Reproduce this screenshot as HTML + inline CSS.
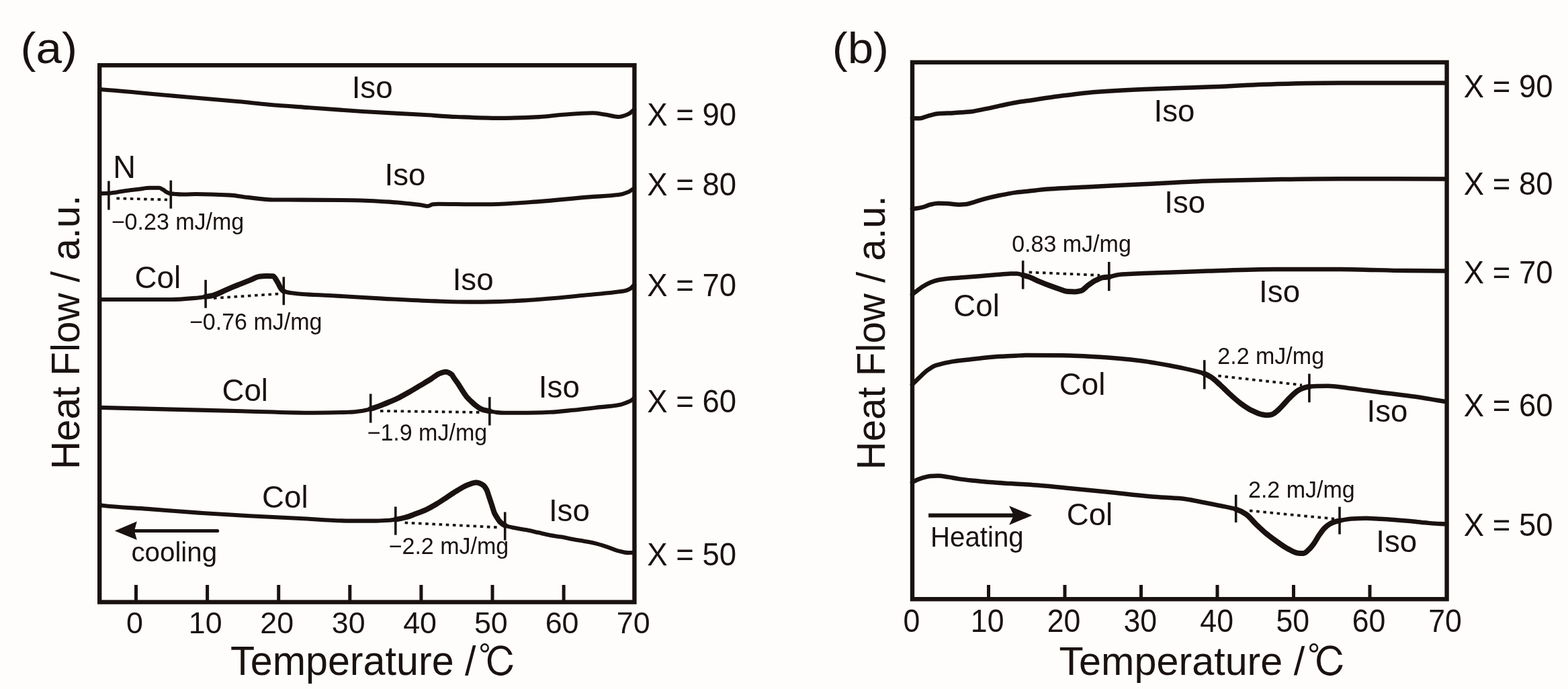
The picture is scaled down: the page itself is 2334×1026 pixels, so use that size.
<!DOCTYPE html>
<html><head><meta charset="utf-8"><style>
html,body{margin:0;padding:0;background:#fefdfb;}
svg{display:block;}
text{font-family:"Liberation Sans", "Noto Sans CJK JP", sans-serif;fill:#1a1210;}
text.c{font-family:"IPAGothic", "Noto Sans CJK JP", sans-serif;}
</style></head><body>
<svg width="2334" height="1026" viewBox="0 0 2334 1026">
<rect width="2334" height="1026" fill="#fefdfb"/>
<g>
<rect x="148.2" y="97.2" width="796.2" height="799.4" fill="none" stroke="#1a1210" stroke-width="6.4"/>
<line x1="202.5" y1="896.6" x2="202.5" y2="871" stroke="#1a1210" stroke-width="5"/>
<line x1="308.6" y1="896.6" x2="308.6" y2="871" stroke="#1a1210" stroke-width="5"/>
<line x1="414.7" y1="896.6" x2="414.7" y2="871" stroke="#1a1210" stroke-width="5"/>
<line x1="520.8" y1="896.6" x2="520.8" y2="871" stroke="#1a1210" stroke-width="5"/>
<line x1="626.9" y1="896.6" x2="626.9" y2="871" stroke="#1a1210" stroke-width="5"/>
<line x1="733" y1="896.6" x2="733" y2="871" stroke="#1a1210" stroke-width="5"/>
<line x1="839.1" y1="896.6" x2="839.1" y2="871" stroke="#1a1210" stroke-width="5"/>
<rect x="1358" y="92.8" width="795.6" height="799.4" fill="none" stroke="#1a1210" stroke-width="6.4"/>
<line x1="1471.5" y1="892.2" x2="1471.5" y2="871" stroke="#1a1210" stroke-width="5"/>
<line x1="1585" y1="892.2" x2="1585" y2="871" stroke="#1a1210" stroke-width="5"/>
<line x1="1698.5" y1="892.2" x2="1698.5" y2="871" stroke="#1a1210" stroke-width="5"/>
<line x1="1812" y1="892.2" x2="1812" y2="871" stroke="#1a1210" stroke-width="5"/>
<line x1="1925.5" y1="892.2" x2="1925.5" y2="871" stroke="#1a1210" stroke-width="5"/>
<line x1="2039" y1="892.2" x2="2039" y2="871" stroke="#1a1210" stroke-width="5"/>
</g>
<g fill="none" stroke="#1a1210" stroke-linecap="round" stroke-linejoin="round">
<path stroke-width="6.1" d="M148,133.1 C149,133.17 150,133.23 151,133.3 C184,135.7 217,139.1 250,142 C285.33,145.1 320.67,147.93 356,151.3 C370.67,152.7 385.33,154.52 400,155.8 C420,157.54 440,158.84 460,160.3 C486.67,162.25 513.33,164.35 540,166 C569.33,167.82 598.67,169.09 628,170.8 C645.33,171.81 662.67,173.28 680,174 C700.67,174.85 721.33,175.9 742,175.9 C762.33,175.9 782.67,175.06 803,174.1 C814.67,173.55 826.33,171.66 838,170.8 C852.67,169.73 867.33,168.2 882,168.2 C888,168.2 894,169.55 900,170.4 C907,171.39 914,174 921,174 C925.67,174 930.33,172.02 935,170 C938,168.7 941,165.91 944,163"/>
<path stroke-width="6.1" d="M148,288.1 C152.57,288.1 157.13,287.97 161.7,287.8 C165.43,287.66 169.17,286.92 172.9,286.4 C178.47,285.62 184.03,284.47 189.6,283.7 C195.17,282.93 200.73,282.35 206.3,281.7 C211.87,281.05 217.43,279.8 223,279.8 C227.63,279.8 232.27,279.8 236.9,279.8 C238.77,279.8 240.63,281.28 242.5,282.3 C244.37,283.32 246.23,285.31 248.1,286.2 C250.13,287.17 252.17,288.14 254.2,288.4 C256.8,288.74 259.4,288.86 262,289 C266.33,289.23 270.67,289.5 275,289.5 C280.47,289.5 285.93,289 291.4,289 C308.53,289 325.67,289.68 342.8,290.6 C351.37,291.06 359.93,292.96 368.5,293.9 C381.33,295.3 394.17,297.44 407,297.5 C421.33,297.57 435.67,297.55 450,297.6 C475.8,297.69 501.6,297.84 527.4,298.2 C544.93,298.44 562.47,299.5 580,300.6 C585.13,300.92 590.27,301.44 595.4,301.9 C600.53,302.36 605.67,302.86 610.8,303.4 C615.97,303.95 621.13,304.47 626.3,305.2 C629.73,305.69 633.17,307 636.6,307 C639.17,307 641.73,304.48 644.3,304.2 C646.87,303.92 649.43,303.7 652,303.7 C668,303.7 684,304.11 700,304.2 C708,304.25 716,304.3 724,304.3 C745.87,304.3 767.73,302.38 789.6,301 C818.73,299.17 847.87,295.73 877,293.4 C891.6,292.23 906.2,292.04 920.8,290.1 C925.53,289.47 930.27,287.97 935,286 C938,284.75 941,282.44 944,280"/>
<path stroke-width="6.1" d="M148,446 C161.17,446 174.33,446 187.5,446 C210,446 232.5,446 255,446 C266.67,446 278.33,444.9 290,443.9 C295.37,443.44 300.73,442.61 306.1,441.8 C309.87,441.23 313.63,440.71 317.4,439.8 C321.97,438.69 326.53,436.24 331.1,434.3 C335.67,432.36 340.23,430.04 344.8,428.1 C349.4,426.15 354,424.44 358.6,422.6 C363.17,420.77 367.73,418.92 372.3,417.1 C376.87,415.28 381.43,412.21 386,411.7 C389.43,411.31 392.87,411 396.3,411 C399.7,411 403.1,411.09 406.5,411.3 C408.8,411.44 411.1,416.98 413.4,420.6 C415,423.12 416.6,427.44 418.2,429.5 C419.57,431.26 420.93,433.03 422.3,433.6 C426.2,435.23 430.1,435.72 434,436.3 C439.33,437.09 444.67,437.62 450,438 C463.33,438.96 476.67,439.29 490,440 C516.27,441.4 542.53,443.21 568.8,444.6 C595.1,445.99 621.4,447.6 647.7,448.4 C665.13,448.93 682.57,449.6 700,449.6 C714.27,449.6 728.53,449.37 742.8,449.1 C757.1,448.83 771.4,447.86 785.7,447 C799.97,446.15 814.23,444.93 828.5,443.7 C842.8,442.47 857.1,440.92 871.4,439.5 C885.67,438.09 899.93,436.89 914.2,435.2 C919.57,434.56 924.93,434.17 930.3,433 C933.17,432.37 936.03,431.11 938.9,429.3 C940.6,428.23 942.3,426.15 944,424"/>
<path stroke-width="8" d="M306.1,441.8 C309.87,441.23 313.63,440.71 317.4,439.8 C321.97,438.69 326.53,436.24 331.1,434.3 C335.67,432.36 340.23,430.04 344.8,428.1 C349.4,426.15 354,424.44 358.6,422.6 C363.17,420.77 367.73,418.92 372.3,417.1 C376.87,415.28 381.43,412.21 386,411.7 C389.43,411.31 392.87,411 396.3,411 C399.7,411 403.1,411.09 406.5,411.3 C408.8,411.44 411.1,416.98 413.4,420.6 C415,423.12 416.6,427.44 418.2,429.5 C419.57,431.26 420.93,433.03 422.3,433.6"/>
<path stroke-width="6.1" d="M148,606.9 C183.8,607.81 219.6,608.71 255.4,609.6 C290.53,610.47 325.67,611.35 360.8,612.2 C395.93,613.05 431.07,614.7 466.2,614.7 C483.77,614.7 501.33,614.37 518.9,613.8 C525.93,613.57 532.97,612.73 540,611.7 C543.9,611.13 547.8,609.99 551.7,608.9 C555.6,607.81 559.5,606.41 563.4,605 C568.6,603.12 573.8,600.99 579,598.8 C584.2,596.61 589.4,594.37 594.6,591.8 C599.8,589.23 605,586.18 610.2,583.2 C615.4,580.22 620.6,577.02 625.8,573.9 C631,570.78 636.2,567.8 641.4,564.5 C645.3,562.03 649.2,558.29 653.1,556.7 C656.47,555.33 659.83,553.7 663.2,553.7 C666.33,553.7 669.47,555.44 672.6,557.9 C673.43,558.55 674.27,560.63 675.1,561.9 C677.63,565.75 680.17,568.88 682.7,572.7 C684.8,575.87 686.9,579.65 689,582.8 C691.1,585.95 693.2,589.26 695.3,591.7 C697.43,594.18 699.57,595.99 701.7,598 C703.8,599.98 705.9,602.04 708,603.7 C710.1,605.36 712.2,607.02 714.3,608.1 C716.43,609.2 718.57,610.15 720.7,610.7 C723.43,611.4 726.17,611.71 728.9,612.2 C732.5,612.85 736.1,613.79 739.7,614.1 C743.13,614.4 746.57,614.7 750,614.7 C761.43,614.7 772.87,614.7 784.3,614.7 C795.73,614.7 807.17,614.26 818.6,613.8 C830,613.34 841.4,611.92 852.8,610.8 C864.23,609.68 875.67,608.28 887.1,607 C898.53,605.72 909.97,605.18 921.4,603.1 C925.67,602.32 929.93,600.64 934.2,598.9 C936.5,597.96 938.8,597.02 941.1,595.4 C942.07,594.72 943.03,593.61 944,592.5"/>
<path stroke-width="8" d="M551.7,608.9 C555.6,607.81 559.5,606.41 563.4,605 C568.6,603.12 573.8,600.99 579,598.8 C584.2,596.61 589.4,594.37 594.6,591.8 C599.8,589.23 605,586.18 610.2,583.2 C615.4,580.22 620.6,577.02 625.8,573.9 C631,570.78 636.2,567.8 641.4,564.5 C645.3,562.03 649.2,558.29 653.1,556.7 C656.47,555.33 659.83,553.7 663.2,553.7 C666.33,553.7 669.47,555.44 672.6,557.9 C673.43,558.55 674.27,560.63 675.1,561.9 C677.63,565.75 680.17,568.88 682.7,572.7 C684.8,575.87 686.9,579.65 689,582.8 C691.1,585.95 693.2,589.26 695.3,591.7 C697.43,594.18 699.57,595.99 701.7,598 C703.8,599.98 705.9,602.04 708,603.7 C710.1,605.36 712.2,607.02 714.3,608.1 C716.43,609.2 718.57,610.15 720.7,610.7 C723.43,611.4 726.17,611.71 728.9,612.2"/>
<path stroke-width="6.1" d="M148,752 C149.5,752.28 151,752.62 152.5,752.8 C175.13,755.51 197.77,756.19 220.4,757.9 C245.53,759.79 270.67,761.88 295.8,763.6 C320.93,765.32 346.07,766.92 371.2,768.3 C396.33,769.68 421.47,770.78 446.6,772 C471.73,773.22 496.87,775.6 522,775.6 C534.67,775.6 547.33,775.6 560,775.6 C566.67,775.6 573.33,775.25 580,774.8 C582.87,774.61 585.73,774.07 588.6,773.6 C593.53,772.79 598.47,771.79 603.4,770.5 C608.6,769.14 613.8,766.94 619,765 C624.2,763.06 629.4,761.2 634.6,758.8 C639.8,756.4 645,753.3 650.2,750.2 C655.4,747.1 660.6,743.47 665.8,740.1 C671,736.73 676.2,733.02 681.4,730 C686.6,726.98 691.8,723.64 697,721.8 C700.9,720.42 704.8,718.6 708.7,718.6 C712.07,718.6 715.43,720.22 718.8,722.2 C720.63,723.28 722.47,725.89 724.3,729.2 C725.57,731.49 726.83,736.39 728.1,740.1 C729.4,743.91 730.7,747.87 732,751.8 C733.33,755.83 734.67,761.03 736,764 C737.33,766.97 738.67,768.95 740,771 C741.67,773.56 743.33,776.25 745,777.8 C747.27,779.91 749.53,781.62 751.8,782.5 C756.9,784.48 762,785.25 767.1,786.3 C772.83,787.48 778.57,788.18 784.3,789.3 C790,790.41 795.7,791.82 801.4,793.1 C807.13,794.39 812.87,795.96 818.6,797 C824.3,798.04 830,798.62 835.7,799.6 C841.4,800.58 847.1,801.94 852.8,803 C858.53,804.07 864.27,804.93 870,806 C875.7,807.06 881.4,808.03 887.1,809.4 C892.8,810.77 898.5,812.75 904.2,814.6 C909.93,816.46 915.67,819.18 921.4,820.6 C925.67,821.65 929.93,823.1 934.2,823.1 C937.47,823.1 940.73,823.1 944,822.7"/>
<path stroke-width="8" d="M588.6,773.6 C593.53,772.79 598.47,771.79 603.4,770.5 C608.6,769.14 613.8,766.94 619,765 C624.2,763.06 629.4,761.2 634.6,758.8 C639.8,756.4 645,753.3 650.2,750.2 C655.4,747.1 660.6,743.47 665.8,740.1 C671,736.73 676.2,733.02 681.4,730 C686.6,726.98 691.8,723.64 697,721.8 C700.9,720.42 704.8,718.6 708.7,718.6 C712.07,718.6 715.43,720.22 718.8,722.2 C720.63,723.28 722.47,725.89 724.3,729.2 C725.57,731.49 726.83,736.39 728.1,740.1 C729.4,743.91 730.7,747.87 732,751.8 C733.33,755.83 734.67,761.03 736,764 C737.33,766.97 738.67,768.95 740,771 C741.67,773.56 743.33,776.25 745,777.8 C747.27,779.91 749.53,781.62 751.8,782.5"/>
<path stroke-width="6.5" d="M1358,176 C1361.77,176.3 1365.53,176.3 1369.3,176.3 C1373.13,176.3 1376.97,173.8 1380.8,172.8 C1385.97,171.45 1391.13,169.72 1396.3,169.3 C1404,168.67 1411.7,168.63 1419.4,168.2 C1427.1,167.77 1434.8,167.37 1442.5,166.6 C1450.23,165.83 1457.97,163.92 1465.7,162.4 C1473.4,160.88 1481.1,159.01 1488.8,157.4 C1496.53,155.78 1504.27,154.02 1512,152.7 C1518,151.67 1524,150.89 1530,150 C1546,147.63 1562,145.06 1578,143 C1595.67,140.72 1613.33,138.25 1631,136.9 C1654.33,135.12 1677.67,134.01 1701,133 C1733.5,131.59 1766,130.87 1798.5,129.6 C1831.33,128.31 1864.17,125.98 1897,125.2 C1929.87,124.42 1962.73,123.6 1995.6,123.6 C2048.07,123.6 2100.53,123.6 2153,123.6"/>
<path stroke-width="6.5" d="M1358,311 C1363.03,310.7 1368.07,309.7 1373.1,308.6 C1376.97,307.75 1380.83,305.55 1384.7,304.7 C1388.57,303.85 1392.43,302.8 1396.3,302.8 C1401.43,302.8 1406.57,302.99 1411.7,303.2 C1416.83,303.41 1421.97,304.7 1427.1,304.7 C1430.97,304.7 1434.83,304.32 1438.7,303.9 C1442.57,303.48 1446.43,301.89 1450.3,300.8 C1455.43,299.36 1460.57,297.56 1465.7,296.2 C1473.4,294.16 1481.1,292.37 1488.8,290.8 C1496.53,289.22 1504.27,287.62 1512,286.6 C1518,285.81 1524,285.32 1530,284.7 C1540.27,283.64 1550.53,282.35 1560.8,281.6 C1584.2,279.89 1607.6,279.02 1631,277.8 C1654.33,276.59 1677.67,275.45 1701,274.3 C1733.5,272.7 1766,270.65 1798.5,269.6 C1831.33,268.54 1864.17,267.67 1897,267.2 C1929.87,266.73 1962.73,266.2 1995.6,266.2 C2048.07,266.2 2100.53,266.2 2153,266.6"/>
<path stroke-width="6.5" d="M1358,438.5 C1358.93,437.76 1359.87,437.02 1360.8,436.3 C1364.9,433.13 1369,429.56 1373.1,427 C1376.97,424.58 1380.83,422.37 1384.7,420.8 C1388.57,419.23 1392.43,417.81 1396.3,417 C1401.43,415.93 1406.57,415.2 1411.7,414.7 C1419.4,413.95 1427.1,413.68 1434.8,413.1 C1442.53,412.52 1450.27,411.83 1458,411.2 C1465.7,410.57 1473.4,409.9 1481.1,409.3 C1488.8,408.7 1496.5,407.83 1504.2,407.6 C1507.43,407.5 1510.67,407.4 1513.9,407.4 C1516.83,407.4 1519.77,408.9 1522.7,409.7 C1525.4,410.44 1528.1,411.08 1530.8,412 C1535.97,413.75 1541.13,416.72 1546.3,418.9 C1551.43,421.07 1556.57,423.18 1561.7,425.1 C1566.83,427.02 1571.97,428.84 1577.1,430.5 C1580.97,431.75 1584.83,433.76 1588.7,434 C1592.57,434.24 1596.43,434.4 1600.3,434.4 C1603.37,434.4 1606.43,433.66 1609.5,432.8 C1612.83,431.86 1616.17,427.48 1619.5,425.1 C1623.37,422.34 1627.23,419.24 1631.1,417.4 C1634.97,415.56 1638.83,413.62 1642.7,413.1 C1645.4,412.74 1648.1,412.73 1650.8,412.4 C1655.8,411.8 1660.8,409.35 1665.8,408.9 C1670.53,408.47 1675.27,408.36 1680,408.1 C1687,407.72 1694,407.31 1701,407 C1733.5,405.56 1766,404.44 1798.5,403.5 C1831.33,402.55 1864.17,401.1 1897,401.1 C1929.87,401.1 1962.73,401.1 1995.6,401.1 C2028.4,401.1 2061.2,402.78 2094,403.1 C2113.67,403.29 2133.33,403.47 2153,403.5"/>
<path stroke-width="8" d="M1522.7,409.7 C1525.4,410.44 1528.1,411.08 1530.8,412 C1535.97,413.75 1541.13,416.72 1546.3,418.9 C1551.43,421.07 1556.57,423.18 1561.7,425.1 C1566.83,427.02 1571.97,428.84 1577.1,430.5 C1580.97,431.75 1584.83,433.76 1588.7,434 C1592.57,434.24 1596.43,434.4 1600.3,434.4 C1603.37,434.4 1606.43,433.66 1609.5,432.8 C1612.83,431.86 1616.17,427.48 1619.5,425.1 C1623.37,422.34 1627.23,419.24 1631.1,417.4 C1634.97,415.56 1638.83,413.62 1642.7,413.1 C1645.4,412.74 1648.1,412.73 1650.8,412.4"/>
<path stroke-width="6.5" d="M1358,572.5 C1358.93,571.61 1359.87,570.71 1360.8,569.8 C1363.63,567.03 1366.47,563.96 1369.3,561.3 C1373.13,557.7 1376.97,553.92 1380.8,551.2 C1384.67,548.46 1388.53,545.73 1392.4,544.3 C1396.27,542.87 1400.13,542.09 1404,541.2 C1409.13,540.01 1414.27,538.87 1419.4,538.1 C1427.1,536.94 1434.8,536.3 1442.5,535.4 C1450.23,534.5 1457.97,533.45 1465.7,532.7 C1473.4,531.96 1481.1,531.26 1488.8,530.8 C1496.53,530.33 1504.27,530.05 1512,529.7 C1518,529.43 1524,528.9 1530,528.9 C1547,528.9 1564,529.08 1581,529.3 C1600.33,529.55 1619.67,530.66 1639,531.8 C1659.33,533 1679.67,535.06 1700,537.5 C1706.83,538.32 1713.67,539.47 1720.5,540.6 C1727.3,541.72 1734.1,543.01 1740.9,544.3 C1747.73,545.6 1754.57,546.93 1761.4,548.4 C1768.23,549.87 1775.07,551.35 1781.9,553.2 C1785.53,554.19 1789.17,555.2 1792.8,556.6 C1796,557.84 1799.2,559.42 1802.4,561.4 C1806.8,564.12 1811.2,568.57 1815.6,572.5 C1820.8,577.14 1826,582.72 1831.2,587.4 C1836.4,592.08 1841.6,596.87 1846.8,600.7 C1852,604.53 1857.2,608.21 1862.4,610.8 C1867.6,613.39 1872.8,616.07 1878,617.1 C1880.6,617.62 1883.2,618.2 1885.8,618.2 C1888.4,618.2 1891,617.71 1893.6,617.1 C1896.2,616.49 1898.8,613.75 1901.4,611.6 C1904,609.45 1906.6,606.53 1909.2,603.8 C1911.8,601.07 1914.4,597.93 1917,595.2 C1919.6,592.47 1922.2,589.7 1924.8,587.4 C1927.4,585.1 1930,582.69 1932.6,581.2 C1935.2,579.71 1937.8,578.51 1940.4,577.7 C1943.23,576.82 1946.07,575.99 1948.9,575.7 C1952.6,575.32 1956.3,575.08 1960,575 C1965.67,574.88 1971.33,574.8 1977,574.8 C1986,574.8 1995,576.47 2004,577.5 C2013,578.53 2022,579.9 2031,581.1 C2040,582.3 2049,583.57 2058,584.7 C2067,585.83 2076,586.77 2085,587.9 C2094,589.03 2103,590.17 2112,591.5 C2121,592.83 2130,594.51 2139,596 C2143.67,596.77 2148.33,597.54 2153,598.3"/>
<path stroke-width="8" d="M1792.8,556.6 C1796,557.84 1799.2,559.42 1802.4,561.4 C1806.8,564.12 1811.2,568.57 1815.6,572.5 C1820.8,577.14 1826,582.72 1831.2,587.4 C1836.4,592.08 1841.6,596.87 1846.8,600.7 C1852,604.53 1857.2,608.21 1862.4,610.8 C1867.6,613.39 1872.8,616.07 1878,617.1 C1880.6,617.62 1883.2,618.2 1885.8,618.2 C1888.4,618.2 1891,617.71 1893.6,617.1 C1896.2,616.49 1898.8,613.75 1901.4,611.6 C1904,609.45 1906.6,606.53 1909.2,603.8 C1911.8,601.07 1914.4,597.93 1917,595.2 C1919.6,592.47 1922.2,589.7 1924.8,587.4 C1927.4,585.1 1930,582.69 1932.6,581.2 C1935.2,579.71 1937.8,578.51 1940.4,577.7 C1943.23,576.82 1946.07,575.99 1948.9,575.7"/>
<path stroke-width="6.5" d="M1358,718.5 C1358.93,717.82 1359.87,717.1 1360.8,716.6 C1364.9,714.4 1369,712.81 1373.1,711.6 C1376.97,710.46 1380.83,709.13 1384.7,708.9 C1388.57,708.67 1392.43,708.5 1396.3,708.5 C1401.43,708.5 1406.57,709.66 1411.7,710.4 C1416.83,711.14 1421.97,712.37 1427.1,713.1 C1434.83,714.2 1442.57,714.97 1450.3,715.8 C1458,716.63 1465.7,717.49 1473.4,718.1 C1483.67,718.92 1493.93,719.47 1504.2,720.1 C1512.8,720.63 1521.4,721.02 1530,721.6 C1548.53,722.86 1567.07,724.69 1585.6,726.4 C1607.07,728.38 1628.53,730.61 1650,732.8 C1671.4,734.98 1692.8,737.8 1714.2,739.5 C1729.47,740.71 1744.73,740.99 1760,742.5 C1769.73,743.47 1779.47,745.88 1789.2,747.7 C1798.97,749.53 1808.73,751.43 1818.5,753.5 C1825.57,755 1832.63,756.06 1839.7,758.3 C1844.8,759.92 1849.9,762.5 1855,765.9 C1859.87,769.15 1864.73,775.94 1869.6,780.6 C1874.93,785.71 1880.27,790.81 1885.6,795.2 C1890.8,799.48 1896,803.27 1901.2,806.9 C1906.4,810.53 1911.6,814.43 1916.8,817.1 C1922,819.77 1927.2,823.47 1932.4,823.7 C1935,823.81 1937.6,823.9 1940.2,823.9 C1942.8,823.9 1945.4,820.85 1948,818.6 C1950.6,816.35 1953.2,812.86 1955.8,809.3 C1958.4,805.74 1961,800.54 1963.6,796.8 C1966.2,793.06 1968.8,789.17 1971.4,786.6 C1974,784.03 1976.6,781.89 1979.2,780.4 C1981.8,778.91 1984.4,777.68 1987,776.9 C1989.33,776.2 1991.67,775.75 1994,775.3 C1999.93,774.16 2005.87,772.82 2011.8,772.5 C2019.1,772.1 2026.4,771.8 2033.7,771.8 C2040.97,771.8 2048.23,772.4 2055.5,772.8 C2062.8,773.2 2070.1,773.75 2077.4,774.3 C2084.67,774.84 2091.93,775.44 2099.2,776.1 C2106.5,776.76 2113.8,777.64 2121.1,778.3 C2128.4,778.96 2135.7,779.88 2143,780.1 C2146.33,780.2 2149.67,780.3 2153,780.3"/>
<path stroke-width="8" d="M1839.7,758.3 C1844.8,759.92 1849.9,762.5 1855,765.9 C1859.87,769.15 1864.73,775.94 1869.6,780.6 C1874.93,785.71 1880.27,790.81 1885.6,795.2 C1890.8,799.48 1896,803.27 1901.2,806.9 C1906.4,810.53 1911.6,814.43 1916.8,817.1 C1922,819.77 1927.2,823.47 1932.4,823.7 C1935,823.81 1937.6,823.9 1940.2,823.9 C1942.8,823.9 1945.4,820.85 1948,818.6 C1950.6,816.35 1953.2,812.86 1955.8,809.3 C1958.4,805.74 1961,800.54 1963.6,796.8 C1966.2,793.06 1968.8,789.17 1971.4,786.6 C1974,784.03 1976.6,781.89 1979.2,780.4 C1981.8,778.91 1984.4,777.68 1987,776.9 C1989.33,776.2 1991.67,775.75 1994,775.3"/>
</g>
<g stroke="#1a1210" stroke-width="3.6">
<line x1="161.9" y1="269.5" x2="161.9" y2="312.5"/>
<line x1="254.3" y1="268.6" x2="254.3" y2="310.6"/>
<line x1="306.1" y1="416.8" x2="306.1" y2="458.7"/>
<line x1="422.3" y1="412.3" x2="422.3" y2="454.2"/>
<line x1="551.7" y1="586.5" x2="551.7" y2="629.6"/>
<line x1="728.8" y1="591.2" x2="728.8" y2="633.5"/>
<line x1="588.8" y1="754.5" x2="588.8" y2="796.6"/>
<line x1="751.7" y1="762.5" x2="751.7" y2="804.5"/>
<line x1="1522.7" y1="388.1" x2="1522.7" y2="430.5"/>
<line x1="1650.8" y1="390" x2="1650.8" y2="433.2"/>
<line x1="1792.8" y1="536.2" x2="1792.8" y2="579.5"/>
<line x1="1948.9" y1="556.6" x2="1948.9" y2="599.2"/>
<line x1="1839.7" y1="736.7" x2="1839.7" y2="778"/>
<line x1="1994" y1="754.7" x2="1994" y2="795.6"/>
</g>
<g stroke="#1a1210" stroke-width="3.8" stroke-dasharray="4.6 5.6">
<line x1="173.4" y1="295.4" x2="249" y2="297.4"/>
<line x1="318" y1="444" x2="416" y2="437.5"/>
<line x1="566" y1="612" x2="715" y2="614"/>
<line x1="602.6" y1="778.3" x2="744.6" y2="785.5"/>
<line x1="1531.6" y1="405.4" x2="1637" y2="409.9"/>
<line x1="1813.3" y1="559.7" x2="1938" y2="573.4"/>
<line x1="1860" y1="760.5" x2="1986" y2="772.6"/>
</g>
<g fill="#1a1210" stroke="#1a1210">
<line x1="199.4" y1="790.5" x2="323.6" y2="790.5" stroke-width="5.2" stroke-linecap="round"/>
<path stroke="none" d="M170.8,790.5 L203.8,776.6 L200,790.5 L203.8,804 Z"/>
<line x1="1382.1" y1="767.5" x2="1512" y2="767.5" stroke-width="6"/>
<path stroke="none" d="M1536.4,767.5 L1502.1,753.2 L1509,767.5 L1502.1,781.7 Z"/>
</g>
<g>
<text transform="translate(30.45 94.35) scale(1.0628 1)" font-size="65.15">(a)</text>
<text transform="translate(1238.67 94.35) scale(1.0587 1)" font-size="65.15">(b)</text>
<text transform="translate(523.67 146.4) scale(0.9695 1)" font-size="47.12">Iso</text>
<text transform="translate(168.25 265) scale(0.9631 1)" font-size="48.55">N</text>
<text transform="translate(572.57 275.5) scale(0.9695 1)" font-size="47.12">Iso</text>
<text transform="translate(200.51 428.5) scale(0.9695 1)" font-size="47.12">Col</text>
<text transform="translate(673.67 431.8) scale(0.9695 1)" font-size="47.12">Iso</text>
<text transform="translate(330.46 597) scale(0.9695 1)" font-size="47.12">Col</text>
<text transform="translate(801.87 592.1) scale(0.9695 1)" font-size="47.12">Iso</text>
<text transform="translate(390.01 755.6) scale(0.9695 1)" font-size="47.12">Col</text>
<text transform="translate(816.92 776.4) scale(0.9695 1)" font-size="47.12">Iso</text>
<text transform="translate(963.29 186.8) scale(0.9477 1)" font-size="48.02">X = 90</text>
<text transform="translate(963.29 291.3) scale(0.9477 1)" font-size="48.02">X = 80</text>
<text transform="translate(963.29 441) scale(0.9477 1)" font-size="48.02">X = 70</text>
<text transform="translate(963.29 614.1) scale(0.9477 1)" font-size="48.02">X = 60</text>
<text transform="translate(963.29 842.2) scale(0.9477 1)" font-size="48.02">X = 50</text>
<text transform="translate(165.76 341.5) scale(0.9841 1)" font-size="34.57">−0.23 mJ/mg</text>
<text transform="translate(281.91 491) scale(0.9841 1)" font-size="34.57">−0.76 mJ/mg</text>
<text transform="translate(546.52 656) scale(0.9841 1)" font-size="34.57">−1.9 mJ/mg</text>
<text transform="translate(578.62 824.7) scale(0.9841 1)" font-size="34.57">−2.2 mJ/mg</text>
<text transform="translate(195.44 835.9) scale(1.0111 1)" font-size="39.86">cooling</text>
<text transform="translate(187.9 942.5) scale(0.9924 1)" font-size="45.13">0</text>
<text transform="translate(280.85 942.5) scale(0.9924 1)" font-size="45.13">10</text>
<text transform="translate(387.3 942.5) scale(0.9924 1)" font-size="45.13">20</text>
<text transform="translate(493.75 942.5) scale(0.9924 1)" font-size="45.13">30</text>
<text transform="translate(600.2 942.5) scale(0.9924 1)" font-size="45.13">40</text>
<text transform="translate(705.95 942.5) scale(0.9924 1)" font-size="45.13">50</text>
<text transform="translate(811.7 942.5) scale(0.9924 1)" font-size="45.13">60</text>
<text transform="translate(917.8 942.5) scale(0.9924 1)" font-size="45.13">70</text>
<text transform="translate(343.07 1004.8) scale(0.9749 1)" font-size="60.76">Temperature /</text>
<text class="c" transform="translate(712.08 1008.35) scale(0.9570 1)" font-size="60.55">℃</text>
<text transform="translate(1717.47 180.8) scale(0.9695 1)" font-size="47.12">Iso</text>
<text transform="translate(1733.22 316.9) scale(0.9695 1)" font-size="47.12">Iso</text>
<text transform="translate(1419.36 470.7) scale(0.9695 1)" font-size="47.12">Col</text>
<text transform="translate(1874.12 449.8) scale(0.9695 1)" font-size="47.12">Iso</text>
<text transform="translate(1576.76 587.5) scale(0.9695 1)" font-size="47.12">Col</text>
<text transform="translate(2034.57 627.7) scale(0.9695 1)" font-size="47.12">Iso</text>
<text transform="translate(1587.71 781.5) scale(0.9695 1)" font-size="47.12">Col</text>
<text transform="translate(2048.27 821.8) scale(0.9695 1)" font-size="47.12">Iso</text>
<text transform="translate(2178.79 144.9) scale(0.9477 1)" font-size="48.02">X = 90</text>
<text transform="translate(2178.79 290.4) scale(0.9477 1)" font-size="48.02">X = 80</text>
<text transform="translate(2178.79 422.4) scale(0.9477 1)" font-size="48.02">X = 70</text>
<text transform="translate(2178.79 619.6) scale(0.9477 1)" font-size="48.02">X = 60</text>
<text transform="translate(2178.79 798.2) scale(0.9477 1)" font-size="48.02">X = 50</text>
<text transform="translate(1506.16 375.1) scale(0.9841 1)" font-size="34.57">0.83 mJ/mg</text>
<text transform="translate(1812.31 542) scale(0.9841 1)" font-size="34.57">2.2 mJ/mg</text>
<text transform="translate(1858.01 740.7) scale(0.9841 1)" font-size="34.57">2.2 mJ/mg</text>
<text transform="translate(1384.96 813.8) scale(0.9385 1)" font-size="42.88">Heating</text>
<text transform="translate(1344.43 941) scale(0.9174 1)" font-size="48.71">0</text>
<text transform="translate(1444.81 941) scale(0.9174 1)" font-size="48.71">10</text>
<text transform="translate(1558.66 941) scale(0.9174 1)" font-size="48.71">20</text>
<text transform="translate(1672.5 941) scale(0.9174 1)" font-size="48.71">30</text>
<text transform="translate(1786.35 941) scale(0.9174 1)" font-size="48.71">40</text>
<text transform="translate(1899.5 941) scale(0.9174 1)" font-size="48.71">50</text>
<text transform="translate(2012.66 941) scale(0.9174 1)" font-size="48.71">60</text>
<text transform="translate(2126.16 941) scale(0.9174 1)" font-size="48.71">70</text>
<text transform="translate(1576.47 1004.6) scale(0.9905 1)" font-size="59.88">Temperature /</text>
<text class="c" transform="translate(1946.03 1008.35) scale(0.9762 1)" font-size="60.55">℃</text>
<text transform="translate(117.6 699.06) rotate(-90) scale(0.9742 1)" font-size="59.88">Heat Flow / a.u.</text>
<text transform="translate(1317.3 699.46) rotate(-90) scale(0.9713 1)" font-size="60.03">Heat Flow / a.u.</text>
</g>
</svg>
</body></html>
